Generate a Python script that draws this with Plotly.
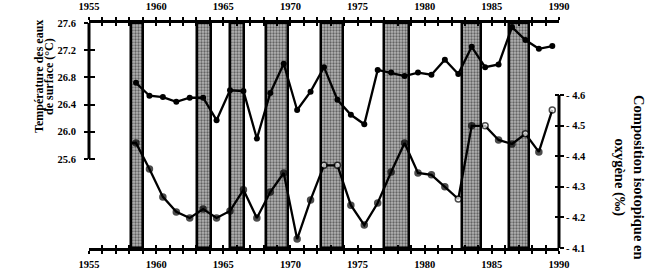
import plotly.graph_objects as go

# ---- data ----
years_temp = [1958.5, 1959.5, 1960.5, 1961.5, 1962.5, 1963.5, 1964.5, 1965.5, 1966.5, 1967.5,
              1968.5, 1969.5, 1970.5, 1971.5, 1972.5, 1973.5, 1974.5, 1975.5, 1976.5, 1977.5,
              1978.5, 1979.5, 1980.5, 1981.5, 1982.5, 1983.5, 1984.5, 1985.5, 1986.5, 1987.5,
              1988.5, 1989.5]
temp = [26.72, 26.53, 26.51, 26.44, 26.50, 26.50, 26.17, 26.61, 26.60, 25.90,
        26.57, 27.00, 26.32, 26.59, 26.95, 26.47, 26.25, 26.11, 26.91, 26.87,
        26.82, 26.87, 26.84, 27.06, 26.85, 27.25, 26.95, 26.99, 27.54, 27.35,
        27.22, 27.26]

years_iso = [1958.2, 1958.5, 1959.5, 1960.5, 1961.5, 1962.5, 1963.5, 1964.5, 1965.5, 1966.5, 1967.5,
             1968.5, 1969.5, 1970.5, 1971.5, 1972.5, 1973.5, 1974.5, 1975.5, 1976.5, 1977.5,
             1978.5, 1979.5, 1980.5, 1981.5, 1982.5, 1983.5, 1984.5, 1985.5, 1986.5, 1987.5,
             1988.5, 1989.5]
iso = [4.443, 4.443, 4.358, 4.267, 4.218, 4.198, 4.227, 4.198, 4.221, 4.290, 4.198,
       4.283, 4.345, 4.129, 4.257, 4.370, 4.370, 4.240, 4.175, 4.247, 4.348,
       4.443, 4.345, 4.339, 4.300, 4.260, 4.499, 4.499, 4.453, 4.440, 4.473,
       4.414, 4.551]
iso_open = [False, False, False, False, False, False, False, False, False, False, False,
            False, False, False, False, True, True, False, False, False, False,
            False, False, False, False, True, False, True, False, False, True,
            False, True]

bar_start = [1958.16, 1963.05, 1965.53, 1968.2, 1972.27, 1977.0, 1982.8, 1986.3]
bar_end = [1959.05, 1964.1, 1966.57, 1969.8, 1973.9, 1978.83, 1984.19, 1987.76]

x_ticks = list(range(1955, 1991))
x_ticktext = [str(y) if y % 5 == 0 else "" for y in x_ticks]
temp_ticks = [25.6, 26.0, 26.4, 26.8, 27.2, 27.6]
temp_ticktext = ["25.6", "26.0", "26.4", "26.8", "27.2", "27.6"]
iso_ticks = [4.1, 4.2, 4.3, 4.4, 4.5, 4.6]
iso_ticktext = ["- 4.1", "- 4.2", "- 4.3", "- 4.4", "- 4.5", "- 4.6"]

left_title_lines = ["Température des eaux", "de surface (°C)"]
right_title = "Composition isotopique en<br>oxygène (‰)"

FONT = "Liberation Serif"
tickfont = dict(family=FONT, size=10.5, color="black", weight="bold")

fig = go.Figure()

# shaded periods (base subplot, drawn first)
centers = [(a + b) / 2 for a, b in zip(bar_start, bar_end)]
widths = [b - a for a, b in zip(bar_start, bar_end)]
fig.add_trace(go.Bar(
    x=centers, y=[1] * len(centers), base=0, width=widths, yaxis="y", xaxis="x",
    marker=dict(color="#a0a0a0", line=dict(color="black", width=2.5),
                pattern=dict(shape=".", fgcolor="#111111", bgcolor="#b4b4b4", size=3, solidity=0.45)),
    showlegend=False, hoverinfo="skip"))

# invisible traces so that the helper axes (top labels, inner ticks) get drawn
fig.add_trace(go.Scatter(x=years_temp, y=temp, xaxis="x2", yaxis="y4", mode="markers",
                         marker=dict(opacity=0), showlegend=False, hoverinfo="skip"))
fig.add_trace(go.Scatter(x=years_iso, y=iso, xaxis="x2", yaxis="y5", mode="markers",
                         marker=dict(opacity=0), showlegend=False, hoverinfo="skip"))

fig.add_trace(go.Scatter(
    x=years_temp, y=temp, yaxis="y2", xaxis="x", mode="lines+markers",
    line=dict(color="black", width=2.3),
    marker=dict(size=6, color="black"), showlegend=False))

fig.add_trace(go.Scatter(
    x=years_iso, y=iso, yaxis="y3", xaxis="x", mode="lines+markers",
    line=dict(color="black", width=2.3),
    marker=dict(size=[0] + [6] * (len(iso) - 1),
                color=["white" if o else "black" for o in iso_open],
                line=dict(color="black", width=1.5)),
    showlegend=False))

temp_range = [24.29, 27.6]
iso_range = [4.1, 4.835]

fig.update_layout(
    width=650, height=272,
    margin=dict(l=89, r=91, t=23, b=24),
    paper_bgcolor="white", plot_bgcolor="rgba(0,0,0,0)",
    bargap=0,
    xaxis=dict(range=[1955, 1990], tickvals=x_ticks, ticktext=x_ticktext,
               ticks="outside", ticklen=3, tickwidth=1.5, tickcolor="black",
               showline=True, linewidth=3, linecolor="black", mirror="allticks",
               ticklabelstandoff=1, automargin=False,
               showgrid=False, zeroline=False, tickfont=tickfont, side="bottom"),
    xaxis2=dict(range=[1955, 1990], tickvals=x_ticks, ticktext=x_ticktext, overlaying="x",
                ticks="inside", ticklen=3, tickwidth=1.5, tickcolor="black",
                showline=False, mirror="allticks", side="top", ticklabelstandoff=10,
                automargin=False,
                showgrid=False, zeroline=False, tickfont=tickfont),
    yaxis=dict(range=[0, 1], visible=False, fixedrange=True, automargin=False),
    yaxis2=dict(range=temp_range, overlaying="y", side="left", tickvals=temp_ticks,
                ticktext=temp_ticktext, ticks="outside", ticklen=4, tickwidth=1.5,
                tickcolor="black", showline=False, showgrid=False, zeroline=False,
                ticklabelstandoff=6, automargin=False, tickfont=tickfont),
    yaxis4=dict(range=temp_range, overlaying="y", side="left", anchor="x", tickvals=temp_ticks,
                ticks="inside", ticklen=6, tickwidth=1.5, tickcolor="black", automargin=False,
                showticklabels=False, showline=False, showgrid=False, zeroline=False),
    yaxis3=dict(range=iso_range, overlaying="y", side="right", tickvals=iso_ticks,
                ticktext=iso_ticktext, ticks="outside", ticklen=4, tickwidth=1.5,
                tickcolor="black", showline=False, showgrid=False, zeroline=False,
                automargin=False, tickfont=tickfont),
    yaxis5=dict(range=iso_range, overlaying="y", side="right", anchor="x", tickvals=iso_ticks,
                ticks="inside", ticklen=4, tickwidth=1.5, tickcolor="black", automargin=False,
                showticklabels=False, showline=False, showgrid=False, zeroline=False),
)

# partial axis lines
fig.add_shape(type="line", xref="paper", yref="y2", x0=0, x1=0, y0=25.6, y1=27.6,
              line=dict(color="black", width=3))
fig.add_shape(type="line", xref="paper", yref="y3", x0=1, x1=1, y0=4.1, y1=4.6,
              line=dict(color="black", width=3))

# left title: two single-line rotated annotations (pixel centres ~x=39 and x=49, y=77)
for line_text, px in zip(left_title_lines, [39, 49]):
    fig.add_annotation(text=line_text, xref="paper", yref="paper",
                       x=(px - 89) / 470, y=(248 - 77) / 225,
                       textangle=-90, showarrow=False, xanchor="center", yanchor="middle",
                       font=dict(family=FONT, size=12, color="black", weight="bold"))
fig.add_annotation(text=right_title, xref="paper", yref="paper", x=1.149, y=0.315,
                   textangle=90, showarrow=False, xanchor="center", yanchor="middle",
                   font=dict(family=FONT, size=14.5, color="black", weight="bold"))

fig.write_html("out.html")
